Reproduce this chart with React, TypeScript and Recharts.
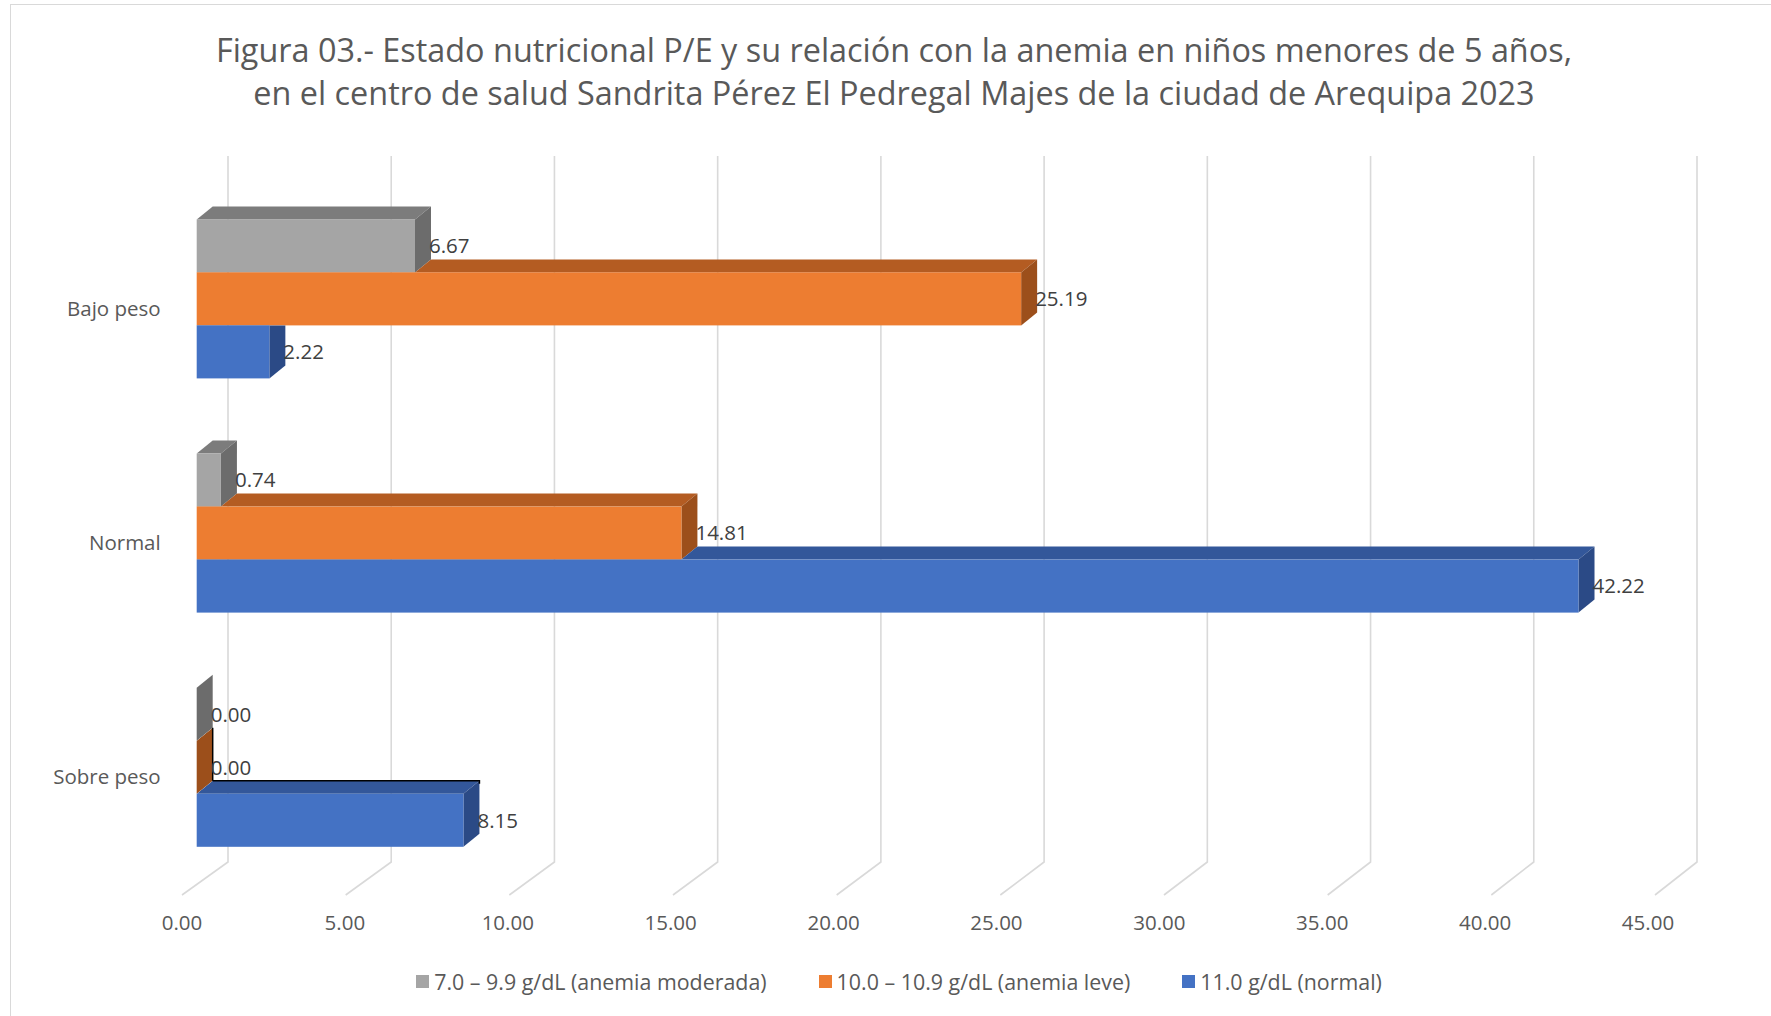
import React from "react";
import {
  BarChart,
  Bar,
  XAxis,
  YAxis,
  CartesianGrid,
  LabelList,
} from "recharts";

const categories = ["Bajo peso", "Normal", "Sobre peso"];
const moderada = [6.67, 0.74, 0.0];
const leve = [25.19, 14.81, 0.0];
const normal = [2.22, 42.22, 8.15];
const xTicks = [0, 5, 10, 15, 20, 25, 30, 35, 40, 45];

const series = [
  { key: "moderada", name: "7.0 – 9.9 g/dL (anemia moderada)", front: "#A5A5A5", top: "#7C7C7C", side: "#6C6C6C" },
  { key: "leve", name: "10.0 – 10.9 g/dL (anemia leve)", front: "#ED7D31", top: "#B45C22", side: "#9C4F1B" },
  { key: "normal", name: "11.0 g/dL (normal)", front: "#4472C4", top: "#33579A", side: "#2B4A86" },
];

const data = categories.map((name, i) => ({
  name,
  moderada: moderada[i],
  leve: leve[i],
  normal: normal[i],
}));

// chart geometry (front plane of the bars)
const W = 1771;
const H = 1016;
const PLOT_L = 196.7;
const PLOT_R = 1669.5;
const PLOT_T = 181.4;
const PLOT_B = 884;
const Y_AXIS_W = 100;
const X_AXIS_H = 30;
const DX = 16;
const DY = 13;
const X_MAX = 45;
const FONT = "'Open Sans', sans-serif";

const frac = (x: number) => (x - PLOT_L) / (PLOT_R - PLOT_L);

// back wall gridline + floor diagonal
const gridLine = (p: any) => {
  const t = frac(p.x1);
  const bx = p.x1 + 31.3 - 3.8 * t;
  const fx = p.x1 - 14.7 + 0.2 * t;
  return (
    <polyline
      key={p.key}
      points={`${bx},${p.y1 - 25.4} ${bx},${p.y2 - 22} ${fx},${p.y2 + 11}`}
      fill="none"
      stroke="#d9d9d9"
      strokeWidth={1.6}
    />
  );
};

const XTick = (p: any) => {
  const t = frac(p.x);
  return (
    <text
      x={p.x - 14.7 - 6.8 * t}
      y={p.y + 46}
      textAnchor="middle"
      fill="#595959"
      fontSize={20.5}
      fontFamily={FONT}
    >
      {Number(p.payload.value).toFixed(2)}
    </text>
  );
};

const YTick = (p: any) => (
  <text
    x={p.x - 36}
    y={p.y + 17.5}
    textAnchor="end"
    fill="#595959"
    fontSize={20.5}
    fontFamily={FONT}
  >
    {p.payload.value}
  </text>
);

const renderBox = (p: any, si: number) => {
  const { x, y, height: h, payload } = p;
  const w = p.width || 0;
  const s = series[si];
  const v = payload[s.key];
  const ppu = v > 0 ? w / v : (PLOT_R - PLOT_L) / X_MAX;
  const id = `clip-${si}-${p.index}`;
  let clip: any = null;
  let extra: any = null;
  if (si > 0) {
    const up = payload[series[si - 1].key];
    const U = x + up * ppu;
    const k = DX / DY;
    clip = (
      <clipPath id={id}>
        <rect x={x - 50} y={y} width={w + DX + 100} height={h + 20} />
        <polygon
          points={`${U - k},${y + 1} ${U + k * (DY + 3)},${y - DY - 3} ${U + 4000},${y - DY - 3} ${U + 4000},${y + 1}`}
        />
      </clipPath>
    );
    if (up === 0) {
      extra =
        v === 0 ? (
          <line x1={x + DX} y1={y - DY} x2={x + DX} y2={y + h - DY} stroke="#000" strokeWidth={1.5} />
        ) : (
          <polyline
            points={`${x + DX},${y - DY} ${x + w + DX},${y - DY} ${x + w + DX},${y - DY + 3}`}
            fill="none"
            stroke="#000"
            strokeWidth={1.5}
          />
        );
    }
  }
  return (
    <g>
      {clip && <defs>{clip}</defs>}
      <g clipPath={clip ? `url(#${id})` : undefined}>
        <polygon
          points={`${x},${y} ${x + DX},${y - DY} ${x + w + DX},${y - DY} ${x + w},${y}`}
          fill={s.top}
        />
        <polygon
          points={`${x + w},${y} ${x + w + DX},${y - DY} ${x + w + DX},${y + h - DY} ${x + w},${y + h}`}
          fill={s.side}
        />
      </g>
      {w > 0 && <rect x={x} y={y} width={w} height={h} fill={s.front} />}
      {extra}
    </g>
  );
};

const valueLabel = (lp: any) => (
  <text
    x={lp.x + (lp.width || 0) + 14}
    y={lp.y + lp.height / 2 + 7.3}
    fill="#404040"
    fontSize={20.5}
    fontFamily={FONT}
  >
    {Number(lp.value).toFixed(2)}
  </text>
);

export default function App() {
  return (
    <div style={{ position: "relative", width: W, height: H, overflow: "hidden", background: "#fff" }}>
      <style>{"body{margin:0}"}</style>
      <div
        style={{
          position: "absolute",
          left: 10,
          top: 4,
          width: W + 20,
          height: H + 20,
          borderLeft: "1.5px solid #d9d9d9",
          borderTop: "1.5px solid #d9d9d9",
        }}
      />
      <div
        style={{
          position: "absolute",
          left: 0,
          top: 28,
          width: 1788,
          textAlign: "center",
          fontFamily: FONT,
          fontSize: 32.4,
          lineHeight: "43px",
          color: "#595959",
        }}
      >
        Figura 03.- Estado nutricional P/E y su relación con la anemia en niños menores de 5 años,
        <br />
        en el centro de salud Sandrita Pérez El Pedregal Majes de la ciudad de Arequipa 2023
      </div>
      <div style={{ position: "absolute", left: 0, top: 0 }}>
        <BarChart
          width={W}
          height={H}
          data={data}
          layout="vertical"
          barSize={53}
          barGap={0}
          margin={{
            top: PLOT_T,
            left: PLOT_L - Y_AXIS_W,
            right: W - PLOT_R,
            bottom: H - PLOT_B - X_AXIS_H,
          }}
        >
          <CartesianGrid horizontal={false} vertical={gridLine} />
          <XAxis
            type="number"
            domain={[0, X_MAX]}
            ticks={xTicks}
            axisLine={false}
            tickLine={false}
            tickSize={0}
            tickMargin={0}
            height={X_AXIS_H}
            tick={<XTick />}
            interval={0}
          />
          <YAxis
            type="category"
            dataKey="name"
            width={Y_AXIS_W}
            axisLine={false}
            tickLine={false}
            tickSize={0}
            tickMargin={0}
            tick={<YTick />}
            interval={0}
          />
          {series.map((s, si) => (
            <Bar
              key={s.key}
              dataKey={s.key}
              name={s.name}
              fill={s.front}
              isAnimationActive={false}
              shape={(p: any) => renderBox(p, si)}
            >
              <LabelList dataKey={s.key} content={valueLabel} />
            </Bar>
          ))}
        </BarChart>
      </div>
      <div
        style={{
          position: "absolute",
          left: 0,
          top: 968,
          width: 1798,
          display: "flex",
          justifyContent: "center",
          gap: 52,
          fontFamily: FONT,
          fontSize: 21.4,
          lineHeight: "27px",
          color: "#595959",
        }}
      >
        {series.map((s) => (
          <div key={s.key} style={{ display: "flex", alignItems: "center" }}>
            <span style={{ display: "inline-block", width: 13, height: 13, background: s.front, marginRight: 5 }} />
            <span>{s.name}</span>
          </div>
        ))}
      </div>
    </div>
  );
}
